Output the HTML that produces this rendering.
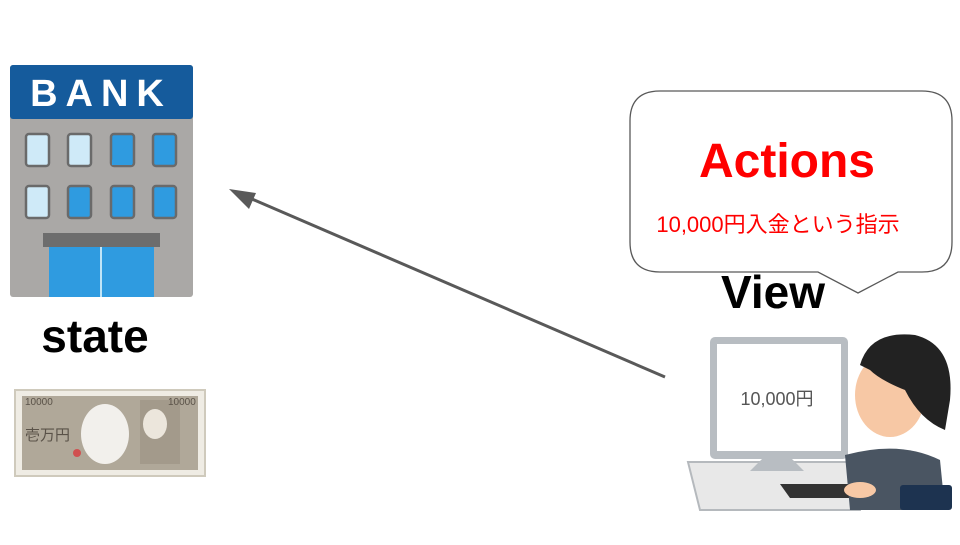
<!DOCTYPE html>
<html><head><meta charset="utf-8"><style>
html,body{margin:0;padding:0;background:#fff;}
body{width:960px;height:540px;overflow:hidden;}
svg text{font-family:"Liberation Sans","Noto Sans CJK JP",sans-serif;}
</style></head><body>
<svg width="960" height="540" viewBox="0 0 960 540" xmlns="http://www.w3.org/2000/svg">
<!-- Bank -->
<rect x="10" y="65" width="183" height="232" rx="3" fill="#aaa8a6"/>
<rect x="10" y="65" width="183" height="54" rx="3" fill="#155b9c"/>
<text x="101" y="106" font-size="38" font-weight="bold" fill="#fff" text-anchor="middle" letter-spacing="8">BANK</text>
<g stroke="#6a6a6a" stroke-width="2.5">
<rect x="26" y="134" width="23" height="32" rx="3" fill="#cfeaf8"/>
<rect x="68" y="134" width="23" height="32" rx="3" fill="#cfeaf8"/>
<rect x="111" y="134" width="23" height="32" rx="3" fill="#2f9be0"/>
<rect x="153" y="134" width="23" height="32" rx="3" fill="#2f9be0"/>
<rect x="26" y="186" width="23" height="32" rx="3" fill="#cfeaf8"/>
<rect x="68" y="186" width="23" height="32" rx="3" fill="#2f9be0"/>
<rect x="111" y="186" width="23" height="32" rx="3" fill="#2f9be0"/>
<rect x="153" y="186" width="23" height="32" rx="3" fill="#2f9be0"/>
</g>
<polygon points="112,160 132,140 132,165 112,165" fill="#2f9be0"/>
<rect x="43" y="233" width="117" height="14" fill="#6d6d6d"/>
<rect x="49" y="247" width="105" height="50" fill="#2f9be0"/>
<line x1="101" y1="247" x2="101" y2="297" stroke="#bfe4f7" stroke-width="2"/>
<text x="95" y="352" font-size="46" font-weight="bold" fill="#000" text-anchor="middle">state</text>
<!-- Bill -->
<rect x="15" y="390" width="190" height="86" fill="#efece4" stroke="#cfcabc" stroke-width="2"/>
<rect x="22" y="396" width="176" height="74" fill="#b0a899"/>
<ellipse cx="105" cy="434" rx="24" ry="30" fill="#f2f0ec"/>
<rect x="140" y="400" width="40" height="64" fill="#a39a8b"/>
<ellipse cx="155" cy="424" rx="12" ry="15" fill="#ece6dc"/>
<text x="25" y="405" font-size="10" fill="#5a5248">10000</text>
<text x="168" y="405" font-size="10" fill="#5a5248">10000</text>
<text x="25" y="440" font-size="15" fill="#5a5248">壱万円</text>
<circle cx="77" cy="453" r="4" fill="#d05050"/>
<!-- Arrow -->
<line x1="665" y1="377" x2="245" y2="196" stroke="#595959" stroke-width="3"/>
<polygon points="229,189 256,193 249,209" fill="#595959"/>
<!-- Bubble -->
<path d="M660,91 H922 Q952,91 952,121 V242 Q952,272 922,272 H898 L858,293 L818,272 H660 Q630,272 630,242 V121 Q630,91 660,91 Z" fill="#fff" stroke="#595959" stroke-width="1.3"/>
<text x="787" y="177" font-size="48" font-weight="bold" fill="#ff0000" text-anchor="middle">Actions</text>
<text x="778" y="232" font-size="22" fill="#ff0000" text-anchor="middle">10,000円入金という指示</text>
<text x="773" y="308" font-size="46" font-weight="bold" fill="#000" text-anchor="middle">View</text>
<!-- Person at computer -->
<path d="M688,462 L870,462 L860,510 L700,510 Z" fill="#e8e8e8" stroke="#b5b9bd" stroke-width="2"/>
<rect x="710" y="337" width="138" height="122" rx="5" fill="#b8bdc2"/>
<rect x="717" y="344" width="124" height="107" fill="#fff"/>
<text x="777" y="405" font-size="18" fill="#555" text-anchor="middle">10,000円</text>
<path d="M762,459 h30 l12,12 h-54 Z" fill="#b8bdc2"/>
<path d="M780,484 h90 v14 h-80 Z" fill="#333"/>
<path d="M845,455 Q900,440 940,460 L945,510 L850,510 Z" fill="#4a5562"/>
<ellipse cx="890" cy="395" rx="35" ry="42" fill="#f7c8a5"/>
<path d="M860,365 Q870,330 915,335 Q955,345 950,400 L945,430 Q920,420 905,390 Q880,380 870,370 Z" fill="#222"/>
<ellipse cx="860" cy="490" rx="16" ry="8" fill="#f7c8a5"/>
<rect x="900" y="485" width="52" height="25" rx="3" fill="#1d3350"/>
</svg>
</body></html>
